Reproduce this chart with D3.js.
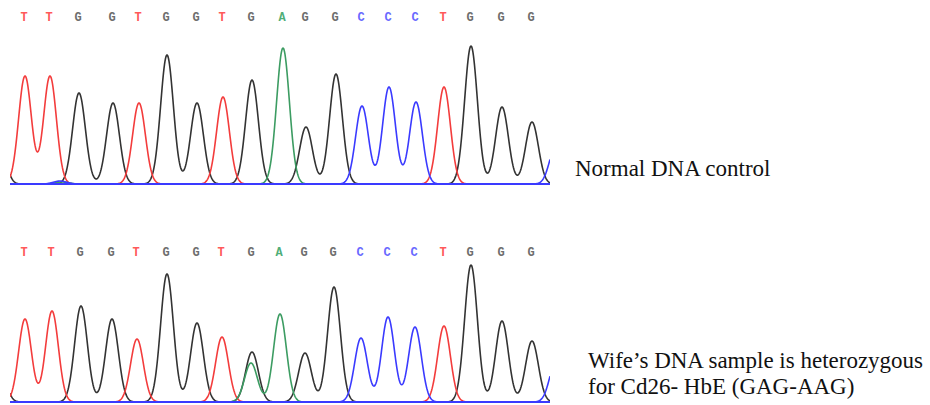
<!DOCTYPE html>
<html>
<head>
<meta charset="utf-8">
<script src="https://cdn.jsdelivr.net/npm/d3@7"></script>
<style>
  body { margin: 0; background: #fff; }
  .caption { font-family: "Liberation Serif", "Times New Roman", serif; font-size: 23px; fill: #111; }
  .base { font-family: "Liberation Mono", "DejaVu Sans Mono", monospace; font-size: 12px; font-weight: bold; }
</style>
</head>
<body>
<div id="chart"></div>
<script>
// Called bases (same for both reads)
var bases = ["T","T","G","G","T","G","G","T","G","A","G","G","C","C","C","T","G","G","G"];

// Normal DNA control: peak positions (scan units) and heights
var normalPos = [15,40,69,103,129,157,187,213,242,273,296,326,352,379,406,434,461,492,522];
var normalHeight = [108,108,91,81,81,129,81,87,104,136,57,110,78,97,82,97,138,77,62];
// small peaks at the edges / noise
var normalMinorBase = ["G","C","A","C"];
var normalMinorPos = [-12,50,52,546];
var normalMinorHeight = [56,3,2,38];

// Wife's sample
var wifePos = [15,42,71,102,127,157,187,212,242,270,295,324,351,378,405,434,461,492,522];
var wifeHeight = [83,91,96,83,63,128,79,65,50,88,49,115,64,85,75,76,137,81,61];
// second (heterozygous) peak under codon 26 G
var wifeMinorBase = ["A","G","C"];
var wifeMinorPos = [241,-12,546];
var wifeMinorHeight = [39,50,40];

var svgWidth = 930;
var svgHeight = 405;

var color = { G: "#333333", T: "#f33c3c", A: "#3c9c62", C: "#3a3aff" };
var letterColor = { G: "#6e6e6e", T: "#ff5a5a", A: "#4fae78", C: "#6a6aff" };
var drawOrder = ["G", "T", "A", "C"];
var sigma = 6.4;

var svg = d3.select("#chart")
    .append("svg")
    .attr("width", svgWidth)
    .attr("height", svgHeight);

// scan position -> pixel
var xScale = d3.scaleLinear().domain([0, 540]).range([10, 550]);
// signal -> pixel offset above baseline
var yScale = d3.scaleLinear().domain([0, 150]).range([0, -150]);

svg.append("defs").append("clipPath")
    .attr("id", "plotClip")
    .append("rect")
    .attr("x", 10).attr("y", -200)
    .attr("width", 540).attr("height", 205);

var panels = [
    { pos: normalPos, height: normalHeight, minorBase: normalMinorBase, minorPos: normalMinorPos, minorHeight: normalMinorHeight, baseline: 184, letterY: 17 },
    { pos: wifePos, height: wifeHeight, minorBase: wifeMinorBase, minorPos: wifeMinorPos, minorHeight: wifeMinorHeight, baseline: 402, letterY: 252 }
];

var samples = d3.range(0, 540.5, 0.5);

panels.forEach(function (p) {
    // collect the peaks per dye
    var peaks = { G: [], T: [], A: [], C: [] };
    bases.forEach(function (b, i) {
        peaks[b].push({ pos: p.pos[i], h: p.height[i] });
    });
    p.minorBase.forEach(function (b, i) {
        peaks[b].push({ pos: p.minorPos[i], h: p.minorHeight[i] });
    });

    var g = svg.append("g")
        .attr("transform", `translate(0, ${p.baseline})`);
    var plot = g.append("g").attr("clip-path", "url(#plotClip)");

    var line = d3.line()
        .x(d => xScale(d[0]))
        .y(d => yScale(d[1]));

    drawOrder.forEach(function (b) {
        var trace = samples.map(function (s) {
            var v = d3.sum(peaks[b], pk => pk.h * Math.exp(-((s - pk.pos) * (s - pk.pos)) / (2 * sigma * sigma)));
            return [s, v];
        });
        plot.append("path")
            .datum(trace)
            .attr("fill", "none")
            .attr("stroke", color[b])
            .attr("stroke-width", 1.6)
            .attr("stroke-linejoin", "round")
            .attr("d", line);
    });

    // blue baseline along the bottom
    plot.append("line")
        .attr("x1", xScale(0)).attr("x2", xScale(540))
        .attr("y1", yScale(0)).attr("y2", yScale(0))
        .attr("stroke", color.C)
        .attr("stroke-width", 1.8);

    // base calls
    svg.append("g").selectAll("text")
        .data(bases)
        .enter()
        .append("text")
        .attr("class", "base")
        .attr("x", (d, i) => xScale(p.pos[i]) - 1)
        .attr("y", p.letterY)
        .attr("dy", "0.35em")
        .attr("text-anchor", "middle")
        .attr("fill", d => letterColor[d])
        .text(d => d);
});

// captions
svg.append("text")
    .attr("class", "caption")
    .attr("x", 575)
    .attr("y", 176)
    .text("Normal DNA control");

var cap2 = svg.append("text")
    .attr("class", "caption")
    .attr("x", 588)
    .attr("y", 368);
cap2.append("tspan").attr("x", 588).text("Wife\u2019s DNA sample is heterozygous");
cap2.append("tspan").attr("x", 588).attr("dy", 26).text("for Cd26- HbE (GAG-AAG)");
</script>
</body>
</html>
